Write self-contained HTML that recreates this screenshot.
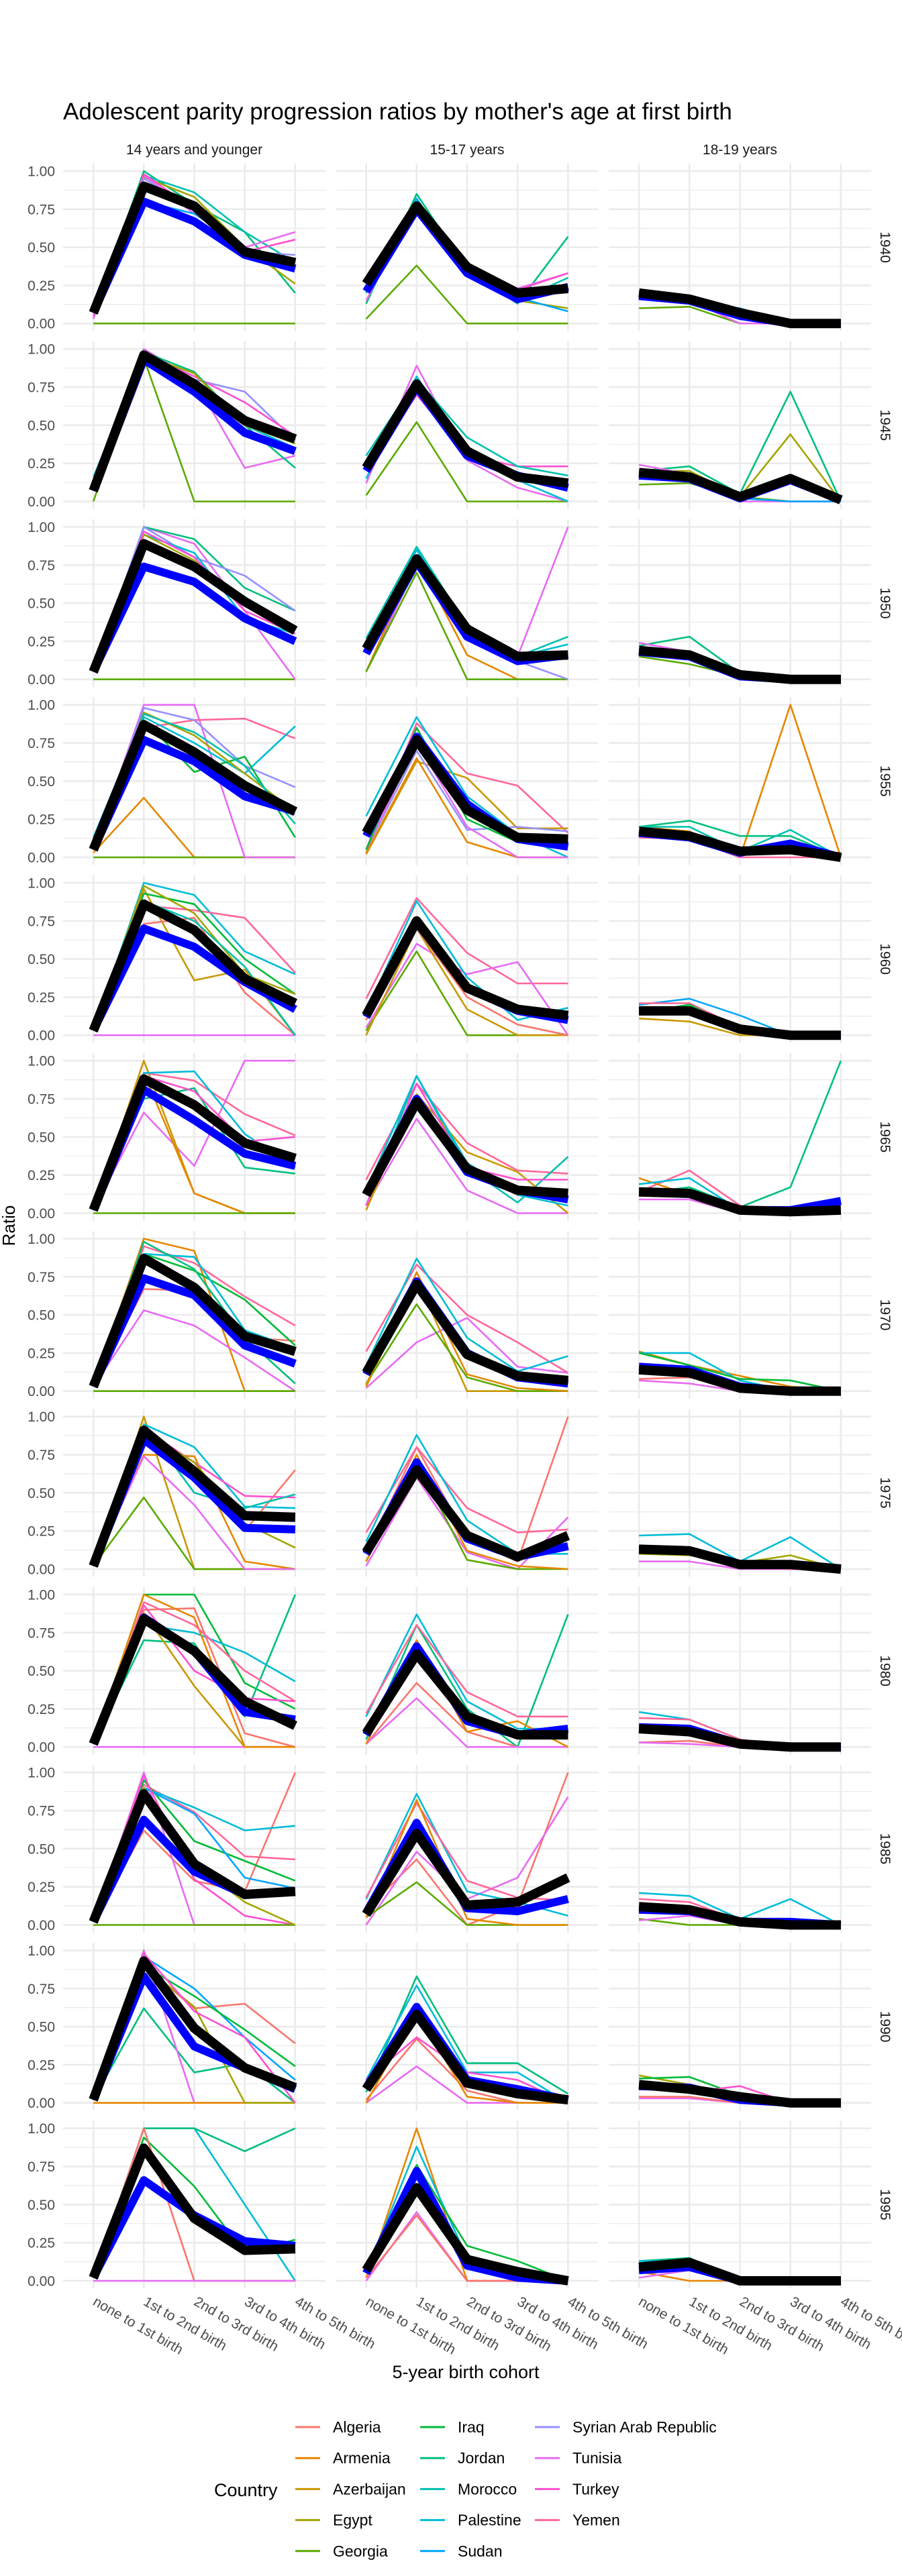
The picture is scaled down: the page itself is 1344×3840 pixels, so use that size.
<!DOCTYPE html>
<html><head><meta charset="utf-8"><style>
html,body{margin:0;padding:0;background:#fff}
svg{display:block;font-family:"Liberation Sans",Arial,sans-serif}
</style></head><body>
<svg id="chart" xmlns="http://www.w3.org/2000/svg" width="1344" height="3840" viewBox="0 0 1344 3840">
<rect width="1344" height="3840" fill="#fff"/>
<text x="94" y="178" font-size="35" fill="#000">Adolescent parity progression ratios by mother's age at first birth</text>
<text x="0" y="0" font-size="26" fill="#000" text-anchor="middle" transform="translate(22,1827) rotate(-90)">Ratio</text>
<text x="694" y="3545" font-size="27" fill="#000" text-anchor="middle">5-year birth cohort</text>
<g id="panels"></g>
<g id="legend"></g>
</svg>
<script>
const cohorts=["1940","1945","1950","1955","1960","1965","1970","1975","1980","1985","1990","1995"];
const ageGroups=["14 years and younger","15-17 years","18-19 years"];
const stages=["none to 1st birth","1st to 2nd birth","2nd to 3rd birth","3rd to 4th birth","4th to 5th birth"];
const countries=["Algeria","Armenia","Azerbaijan","Egypt","Georgia","Iraq","Jordan","Morocco","Palestine","Sudan","Syrian Arab Republic","Tunisia","Turkey","Yemen"];
const countryColors=["#F8766D","#E58700","#C99800","#A3A500","#5BAA00","#00BA38","#00BF7D","#00C0AF","#00BCD8","#00A5FF","#9590FF","#E76BF3","#FF4FCF","#FF6699"];
// overall (black) per panel, order: cohort-major, age group minor
const overall=[
[0.07,0.90,0.77,0.47,0.40],[0.26,0.77,0.37,0.20,0.23],[0.20,0.16,0.07,0,0],
[0.07,0.96,0.77,0.53,0.41],[0.22,0.77,0.33,0.16,0.12],[0.19,0.16,0.03,0.15,0.01],
[0.05,0.89,0.74,0.51,0.32],[0.20,0.79,0.33,0.15,0.16],[0.19,0.16,0.03,0,0],
[0.05,0.87,0.69,0.47,0.30],[0.16,0.77,0.31,0.13,0.12],[0.17,0.14,0.04,0.05,0],
[0.03,0.86,0.69,0.37,0.21],[0.13,0.75,0.31,0.17,0.13],[0.16,0.16,0.04,0,0],
[0.02,0.88,0.71,0.46,0.36],[0.12,0.73,0.29,0.15,0.13],[0.14,0.13,0.02,0.01,0.02],
[0.03,0.87,0.68,0.36,0.26],[0.12,0.70,0.24,0.10,0.07],[0.14,0.12,0.02,0,0],
[0.02,0.91,0.64,0.35,0.34],[0.11,0.65,0.22,0.08,0.22],[0.13,0.12,0.03,0.03,0],
[0.02,0.84,0.63,0.30,0.14],[0.09,0.61,0.20,0.08,0.08],[0.12,0.10,0.02,0,0],
[0.02,0.86,0.40,0.20,0.22],[0.07,0.60,0.13,0.15,0.31],[0.12,0.10,0.02,0,0],
[0.02,0.93,0.49,0.23,0.10],[0.09,0.58,0.13,0.06,0.02],[0.12,0.09,0.04,0,0],
[0.02,0.87,0.41,0.20,0.21],[0.07,0.61,0.14,0.06,0],[0.09,0.12,0,0,0]];
// average (blue) per panel
const average=[
[0.07,0.80,0.67,0.45,0.36],[0.21,0.75,0.33,0.16,0.24],[0.18,0.15,0.05,0,0],
[0.07,0.93,0.72,0.45,0.33],[0.20,0.75,0.30,0.17,0.09],[0.17,0.15,0.02,0.14,0.01],
[0.05,0.74,0.64,0.40,0.25],[0.17,0.77,0.28,0.12,0.16],[0.18,0.15,0.02,0,0],
[0.05,0.77,0.63,0.40,0.30],[0.14,0.79,0.35,0.12,0.07],[0.16,0.13,0.03,0.09,0],
[0.03,0.70,0.58,0.35,0.17],[0.12,0.74,0.31,0.16,0.10],[0.16,0.16,0.04,0,0],
[0.02,0.81,0.61,0.39,0.31],[0.12,0.75,0.27,0.15,0.09],[0.14,0.13,0.02,0.02,0.08],
[0.03,0.74,0.63,0.30,0.18],[0.11,0.72,0.25,0.09,0.05],[0.16,0.14,0.03,0,0],
[0.02,0.85,0.60,0.27,0.26],[0.10,0.70,0.20,0.08,0.15],[0.13,0.12,0.03,0.03,0],
[0.02,0.85,0.63,0.23,0.18],[0.08,0.66,0.17,0.08,0.12],[0.13,0.12,0.02,0,0],
[0.02,0.69,0.35,0.20,0.22],[0.08,0.67,0.11,0.09,0.17],[0.10,0.09,0.02,0.02,0],
[0.02,0.83,0.37,0.23,0.09],[0.10,0.63,0.15,0.09,0.02],[0.11,0.10,0.02,0,0],
[0.02,0.66,0.43,0.26,0.23],[0.05,0.72,0.10,0.02,0],[0.07,0.09,0,0,0]];
// country lines per panel: [countryIndex, v0..v4]
const countryLines=[
[[4,0,0,0,0,0],[6,0.07,1.0,0.78,0.6,0.2],[7,0.07,0.97,0.86,0.6,0.4],[3,0.07,0.96,0.83,0.5,0.26],[11,0.03,0.97,0.72,0.5,0.6],[12,0.05,0.98,0.75,0.47,0.55],[10,0.07,0.95,0.75,0.47,0.45],[9,0.07,0.8,0.72,0.5,0.36]],
[[4,0.03,0.38,0,0,0],[6,0.13,0.85,0.35,0.13,0.57],[11,0.15,0.8,0.35,0.23,0.33],[12,0.2,0.78,0.36,0.22,0.33],[3,0.2,0.78,0.38,0.15,0.1],[9,0.2,0.82,0.33,0.17,0.08],[7,0.2,0.8,0.34,0.15,0.3]],
[[4,0.1,0.11,0,0,0],[9,0.16,0.13,0.1,0,0],[11,0.21,0.15,0,0,0],[3,0.2,0.18,0.05,0,0]],
[[4,0,0.94,0,0,0],[10,0.07,1.0,0.8,0.72,0.4],[12,0.07,0.97,0.82,0.65,0.43],[11,0.07,1.0,0.8,0.22,0.3],[6,0.07,0.98,0.85,0.5,0.22],[8,0.16,0.95,0.75,0.5,0.35],[3,0.07,0.96,0.84,0.5,0.38]],
[[4,0.04,0.52,0,0,0],[11,0.12,0.89,0.27,0.09,0],[12,0.2,0.7,0.3,0.23,0.23],[7,0.3,0.8,0.42,0.23,0.17],[8,0.15,0.82,0.3,0.14,0],[3,0.2,0.76,0.35,0.17,0.1]],
[[6,0.2,0.23,0.05,0.72,0],[3,0.2,0.2,0.03,0.44,0],[4,0.11,0.12,0.03,0,0],[11,0.24,0.18,0,0,0],[9,0.16,0.16,0.02,0,0]],
[[4,0,0,0,0,0],[11,0.05,1.0,0.89,0.45,0],[6,0.05,1.0,0.92,0.6,0.45],[10,0.05,1.0,0.8,0.68,0.45],[8,0.05,0.95,0.83,0.4,0.3],[3,0.05,0.95,0.78,0.5,0.35],[12,0.05,0.97,0.8,0.45,0.3]],
[[11,0.05,0.75,0.3,0.15,1.0],[1,0.05,0.8,0.16,0,0],[4,0.05,0.7,0,0,0],[7,0.27,0.87,0.35,0.15,0.28],[8,0.25,0.85,0.33,0.15,0.23],[10,0.2,0.8,0.3,0.12,0]],
[[6,0.22,0.28,0.04,0,0],[4,0.15,0.1,0.02,0,0],[11,0.24,0.18,0,0,0],[9,0.2,0.17,0.03,0,0]],
[[1,0.03,0.39,0,0,0],[4,0,0,0,0,0],[11,0.05,1.0,1.0,0,0],[13,0.05,0.85,0.9,0.91,0.78],[8,0.13,0.92,0.75,0.55,0.86],[10,0.05,0.98,0.9,0.6,0.46],[5,0.05,0.9,0.56,0.66,0.13],[3,0.05,0.95,0.8,0.55,0.3],[7,0.05,0.94,0.82,0.6,0.22]],
[[13,0.05,0.88,0.55,0.47,0.16],[2,0.02,0.63,0.52,0.19,0.19],[1,0.03,0.65,0.1,0,0],[8,0.27,0.92,0.4,0.15,0],[10,0.05,0.7,0.18,0.2,0.17],[11,0.05,0.75,0.2,0,0],[5,0.05,0.85,0.25,0.1,0.1]],
[[1,0.2,0.17,0,1.0,0],[6,0.2,0.24,0.14,0.14,0],[7,0.2,0.2,0.04,0.18,0],[13,0.13,0.12,0,0,0]],
[[8,0.03,1.0,0.92,0.55,0.4],[13,0.05,0.85,0.82,0.77,0.41],[2,0.03,0.96,0.36,0.43,0],[0,0.1,0.73,0.77,0.28,0],[11,0,0,0,0,0],[5,0.03,0.93,0.86,0.5,0.27],[3,0.03,0.98,0.8,0.4,0.27],[7,0.03,0.88,0.75,0.45,0]],
[[13,0.24,0.9,0.54,0.34,0.34],[11,0.05,0.6,0.4,0.48,0],[4,0.03,0.55,0,0,0],[8,0.15,0.88,0.38,0.1,0.18],[2,0,0.7,0.17,0,0],[0,0.1,0.7,0.25,0.07,0]],
[[9,0.2,0.24,0.13,0,0],[13,0.21,0.21,0.05,0,0],[2,0.11,0.09,0,0,0],[5,0.15,0.2,0.04,0,0]],
[[11,0.02,0.66,0.31,1.0,1.0],[2,0.02,1.0,0.13,0,0],[1,0.02,0.92,0.13,0,0],[4,0,0,0,0,0],[13,0.02,0.92,0.87,0.65,0.51],[8,0.02,0.92,0.93,0.52,0.3],[6,0.02,0.75,0.82,0.3,0.26],[12,0.02,0.9,0.8,0.47,0.5]],
[[13,0.22,0.85,0.46,0.28,0.26],[7,0.05,0.9,0.3,0.07,0.37],[11,0.05,0.62,0.15,0,0],[2,0.02,0.78,0.4,0.27,0],[12,0.05,0.85,0.3,0.22,0.22],[8,0.15,0.9,0.33,0.12,0.05]],
[[6,0.13,0.17,0.04,0.17,1.0],[13,0.14,0.28,0.05,0,0],[1,0.23,0.12,0.04,0,0],[8,0.19,0.23,0.02,0,0],[11,0.09,0.09,0,0,0]],
[[1,0.03,1.0,0.92,0,0],[11,0.03,0.53,0.43,0.22,0],[13,0.03,0.95,0.84,0.62,0.43],[4,0,0,0,0,0],[0,0.03,0.67,0.66,0.35,0.33],[5,0.03,0.9,0.79,0.6,0.3],[8,0.03,0.9,0.88,0.4,0.28],[6,0.03,0.98,0.8,0.35,0.05]],
[[13,0.26,0.83,0.5,0.32,0.12],[11,0.02,0.32,0.48,0.16,0.12],[2,0.03,0.74,0,0,0],[8,0.17,0.87,0.35,0.13,0.23],[4,0.05,0.57,0.09,0,0],[1,0.04,0.78,0.11,0.02,0]],
[[1,0.26,0.17,0.1,0.03,0],[8,0.25,0.25,0.07,0,0],[5,0.25,0.17,0.08,0.07,0],[11,0.07,0.05,0,0,0],[0,0.08,0.09,0.03,0,0]],
[[2,0.02,1.0,0,0,0],[1,0.02,0.75,0.74,0.05,0],[4,0.02,0.47,0,0,0],[11,0.02,0.74,0.42,0,0],[8,0.02,0.95,0.8,0.41,0.4],[0,0.02,0.9,0.7,0.25,0.65],[12,0.02,0.92,0.7,0.48,0.47],[3,0.02,0.9,0.7,0.3,0.14],[7,0.02,0.95,0.5,0.4,0.49]],
[[0,0.1,0.8,0.2,0.05,1.0],[13,0.24,0.8,0.4,0.24,0.26],[11,0.02,0.6,0.11,0,0.34],[8,0.18,0.88,0.32,0.1,0.1],[4,0.05,0.7,0.06,0,0],[1,0.05,0.75,0.12,0.02,0]],
[[8,0.22,0.23,0.05,0.21,0],[3,0.1,0.09,0.04,0.09,0],[11,0.05,0.05,0,0,0],[13,0.14,0.14,0.03,0,0]],
[[5,0.02,1.0,1.0,0.42,0.25],[6,0.02,0.7,0.68,0.2,1.0],[8,0.02,0.8,0.75,0.62,0.43],[0,0.02,0.9,0.91,0.09,0],[2,0.02,0.88,0.4,0,0],[12,0.02,0.93,0.5,0.32,0.3],[11,0,0,0,0,0],[1,0.02,1.0,0.85,0,0],[13,0.02,0.95,0.8,0.5,0.3]],
[[8,0.2,0.87,0.3,0.12,0.12],[6,0.05,0.8,0.25,0,0.87],[0,0.02,0.42,0.1,0,0],[11,0.02,0.32,0,0,0],[13,0.22,0.8,0.36,0.2,0.2],[1,0.02,0.7,0.1,0.17,0]],
[[8,0.23,0.18,0.05,0,0],[13,0.19,0.18,0.05,0,0],[0,0.03,0.04,0,0,0],[11,0.03,0.02,0,0,0]],
[[13,0.02,0.92,0.74,0.45,0.43],[0,0.02,0.62,0.29,0.22,1.0],[8,0.02,0.9,0.77,0.62,0.65],[11,0.02,1.0,0,0,0],[5,0.02,0.95,0.55,0.42,0.29],[9,0.02,0.9,0.73,0.31,0.24],[12,0.02,0.98,0.3,0.06,0],[4,0,0,0,0,0],[3,0.02,0.9,0.4,0.15,0]],
[[0,0.1,0.43,0,0.13,1.0],[11,0,0.48,0.17,0.31,0.84],[4,0.05,0.28,0,0,0],[8,0.17,0.86,0.22,0.15,0.06],[13,0.18,0.8,0.29,0.18,0.16],[1,0.05,0.82,0.04,0,0]],
[[8,0.21,0.19,0.04,0.17,0],[4,0.04,0,0,0,0],[11,0.03,0.06,0,0,0],[13,0.17,0.15,0.03,0,0]],
[[0,0.02,0.9,0.62,0.65,0.39],[6,0.02,0.62,0.2,0.26,0],[11,0.02,1.0,0,0,0],[1,0,0,0,0,0],[3,0.02,0.9,0.63,0,0],[9,0.02,0.96,0.75,0.43,0.15],[5,0.02,0.9,0.7,0.48,0.24],[12,0.02,0.98,0.6,0.43,0]],
[[6,0.07,0.83,0.26,0.26,0.06],[8,0.15,0.77,0.2,0.2,0],[11,0,0.24,0,0,0],[0,0.02,0.42,0.08,0,0],[12,0.15,0.43,0.2,0.15,0],[1,0,0.6,0.04,0,0]],
[[3,0.18,0.12,0.05,0,0],[5,0.16,0.17,0.05,0,0],[12,0.1,0.07,0.11,0,0],[11,0.03,0.03,0,0,0],[0,0.04,0.04,0,0,0]],
[[8,0.02,1.0,1.0,0.5,0],[6,0.02,1.0,1.0,0.85,1.0],[5,0.02,0.94,0.62,0.18,0.27],[0,0.02,1.0,0,0,0],[11,0,0,0,0,0]],
[[1,0.02,1.0,0,0,0],[8,0.05,0.88,0.15,0.05,0],[5,0.1,0.76,0.23,0.13,0],[11,0,0.45,0,0,0],[0,0.02,0.43,0,0,0]],
[[6,0.13,0.15,0,0,0],[8,0.13,0.13,0,0,0],[1,0.06,0,0,0,0],[11,0.02,0.07,0,0,0]]];
const yTicks=["0.00","0.25","0.50","0.75","1.00"];

const NS="http://www.w3.org/2000/svg";
const panelsG=document.getElementById('panels');
const colLeft=[94,500.5,907], PW=391, PH=250, rowTop0=243.6, rowPitch=265.25;
function mk(tag,attrs,parent){const e=document.createElementNS(NS,tag);for(const k in attrs)e.setAttribute(k,attrs[k]);parent.appendChild(e);return e;}
function xPos(c,i){return colLeft[c]+(0.6+i)*PW/5.2;}
function yPos(r,v){return rowTop0+r*rowPitch+PH*(1.05-v)/1.1;}
function pts(r,c,vals){return vals.map((v,i)=>xPos(c,i).toFixed(1)+','+yPos(r,v).toFixed(1)).join(' ');}

ageGroups.forEach((g,c)=>{
  const t=mk('text',{x:colLeft[c]+PW/2,y:230,'font-size':21,'text-anchor':'middle',fill:'#1A1A1A'},panelsG);
  
  
  t.textContent=g;
});
cohorts.forEach((co,r)=>{
  const top=rowTop0+r*rowPitch;
  const t=mk('text',{x:0,y:0,'font-size':21,'text-anchor':'middle',fill:'#1A1A1A',transform:`translate(1312,${top+PH/2}) rotate(90)`},panelsG);
  
  
  t.textContent=co;
  yTicks.forEach(lbl=>{
    const tl=mk('text',{x:82,y:yPos(r,parseFloat(lbl))+7.5,'font-size':21,'text-anchor':'end',fill:'#4D4D4D'},panelsG);
    
    
    tl.textContent=lbl;
  });
  ageGroups.forEach((g,c)=>{
    const p=r*3+c;
    const g0=mk('g',{},panelsG);
    
    
    [0.125,0.375,0.625,0.875].forEach(v=>mk('line',{x1:colLeft[c],x2:colLeft[c]+PW,y1:yPos(r,v),y2:yPos(r,v),stroke:'#EBEBEB','stroke-width':1.3},g0));
    [0,0.25,0.5,0.75,1].forEach(v=>mk('line',{x1:colLeft[c],x2:colLeft[c]+PW,y1:yPos(r,v),y2:yPos(r,v),stroke:'#EBEBEB','stroke-width':2.6},g0));
    for(let i=0;i<5;i++)mk('line',{x1:xPos(c,i),x2:xPos(c,i),y1:top,y2:top+PH,stroke:'#EBEBEB','stroke-width':2.6},g0);
    countryLines[p].forEach(l=>{
      const pl=mk('polyline',{points:pts(r,c,l.slice(1)),fill:'none',stroke:countryColors[l[0]],'stroke-width':2.6,'stroke-linejoin':'round'},g0);
      
      
    });
    const bl=mk('polyline',{points:pts(r,c,average[p]),fill:'none',stroke:'#0000FF','stroke-width':12,'stroke-linejoin':'round'},g0);
    
    
    const bk=mk('polyline',{points:pts(r,c,overall[p]),fill:'none',stroke:'#000','stroke-width':14,'stroke-linejoin':'round'},g0);
    
    
  });
});
[0,1,2].forEach(c=>{
  stages.forEach((s,i)=>{
    const x=xPos(c,i)-2;
    const t=mk('text',{x:0,y:0,'font-size':21,fill:'#4D4D4D',transform:`translate(${x},3435) rotate(30)`},panelsG);
    
    
    t.textContent=s;
  });
});
const lg=document.getElementById('legend');
const lt=mk('text',{x:319,y:3721,'font-size':27,fill:'#000'},lg);


lt.textContent='Country';
const legX=[440,626,797];
countries.forEach((n,k)=>{
  const col=Math.floor(k/5), row=k%5;
  const y=3618+row*46.2;
  const g=mk('g',{},lg);
  
  
  mk('line',{x1:legX[col],x2:legX[col]+37,y1:y,y2:y,stroke:countryColors[k],'stroke-width':3},g);
  const t=mk('text',{x:legX[col]+56,y:y+8,'font-size':23,fill:'#000'},g);
  t.textContent=n;
});
</script>
</body></html>
